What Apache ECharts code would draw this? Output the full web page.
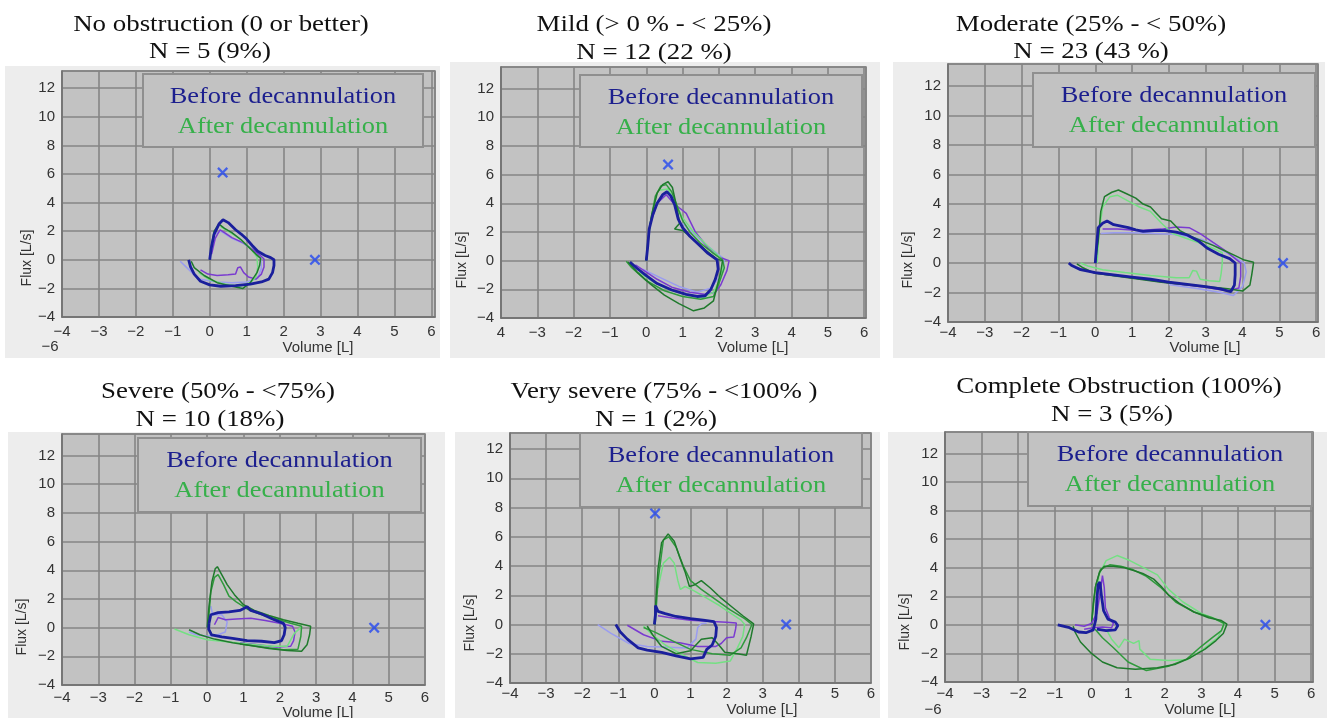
<!DOCTYPE html>
<html><head><meta charset="utf-8">
<script src="https://cdn.jsdelivr.net/npm/echarts@6/dist/echarts.min.js"></script>
<style>html,body{margin:0;padding:0;background:#fff}#c{width:1327px;height:718px}</style>
</head><body><div id="c"></div>
<script>
// ---------- DATA ----------
const titles = [
  ["No obstruction (0 or better)", "N = 5 (9%)"],
  ["Mild (> 0 % - < 25%)", "N = 12 (22 %)"],
  ["Moderate (25% - < 50%)", "N = 23 (43 %)"],
  ["Severe (50% - <75%)", "N = 10 (18%)"],
  ["Very severe (75% - <100% )", "N = 1 (2%)"],
  ["Complete Obstruction (100%)", "N = 3 (5%)"]
];
const legendBefore = "Before decannulation";
const legendAfter = "After decannulation";
const xAxisName = "Volume [L]";
const yAxisName = "Flux [L/s]";
const xTickValues = [-4,-3,-2,-1,0,1,2,3,4,5,6];
const yTickValues = [-4,-2,0,2,4,6,8,10,12];

// Panel 1
const p1BlueDark = [[0,0],[0.04,0.8],[0.12,1.8],[0.25,2.5],[0.36,2.8],[0.5,2.6],[0.7,2.1],[0.85,1.8],[1.0,1.45],[1.15,1.0],[1.3,0.6],[1.5,0.3],[1.65,0.15],[1.74,0.0],[1.74,-0.4],[1.7,-0.9],[1.6,-1.35],[1.4,-1.55],[1.1,-1.7],[0.7,-1.8],[0.3,-1.85],[0.0,-1.75],[-0.25,-1.5],[-0.42,-1.0],[-0.52,-0.5],[-0.57,0.0]];
const p1Purple = [[0.05,0.4],[0.15,1.5],[0.28,2.1],[0.4,1.9],[0.6,1.55],[0.9,1.2],[1.15,0.75],[1.35,0.35],[1.47,0.05],[1.47,-0.5],[1.4,-1.0],[1.25,-1.35],[1.05,-1.2],[0.92,-0.9],[0.83,-0.5],[0.76,-0.55],[0.7,-1.0],[0.5,-1.05],[0.2,-1.1],[-0.05,-1.0],[-0.25,-0.7]];
const p1Lavender = [[0.15,1.8],[0.3,2.0],[0.6,1.5],[0.95,1.1],[1.2,0.6],[1.38,0.1],[1.4,-0.6],[1.3,-1.3],[1.0,-1.55],[0.6,-1.6],[0.2,-1.55],[-0.3,-1.35],[-0.6,-0.6],[-0.8,-0.1]];
const p1GreenDark = [[0,0],[0.05,1.0],[0.12,2.0],[0.25,2.5],[0.4,2.2],[0.6,1.9],[0.85,1.4],[1.05,0.9],[1.25,0.4],[1.38,0.1],[1.35,-0.4],[1.28,-0.9],[1.1,-1.6],[0.9,-2.0],[0.6,-1.85],[0.2,-1.6],[-0.15,-1.1],[-0.42,-0.55],[-0.5,-0.1]];
const p1GreenLight = [[0.3,2.3],[0.5,2.0],[0.8,1.5],[1.1,0.8],[1.28,0.2],[1.3,-0.5],[1.25,-1.2],[1.1,-1.6],[0.8,-1.85],[0.4,-1.7],[0.0,-1.4],[-0.3,-0.9]];
const p1Marks = [[0.35,6.1],[2.85,0]];

// Panel 2
const p2BlueDark = [[0,0],[0.04,1.0],[0.08,2.2],[0.18,3.2],[0.3,4.0],[0.45,4.6],[0.57,4.8],[0.68,4.5],[0.78,3.9],[0.88,2.9],[1.0,2.3],[1.2,1.7],[1.45,1.1],[1.7,0.5],[1.95,0.05],[1.98,-0.6],[1.9,-1.3],[1.78,-2.0],[1.62,-2.45],[1.4,-2.5],[1.1,-2.35],[0.7,-2.05],[0.3,-1.6],[0.0,-1.05],[-0.25,-0.55],[-0.45,-0.1]];
const p2Purple = [[0.1,2.5],[0.3,4.0],[0.55,4.6],[0.75,4.0],[0.95,3.6],[1.1,3.3],[1.35,2.0],[1.7,0.9],[2.05,0.2],[2.28,0.0],[2.22,-0.7],[2.05,-1.7],[1.9,-2.2],[1.6,-2.35],[1.2,-2.2],[0.7,-1.85],[0.3,-1.3],[0.0,-0.8],[-0.3,-0.3]];
const p2Lavender = [[1.0,2.6],[1.3,1.9],[1.6,1.2],[1.9,0.6],[2.15,0.1],[2.1,-0.8],[1.8,-1.9],[1.4,-2.2],[0.9,-1.8],[0.4,-1.2],[-0.1,-0.6]];
const p2GreenDark = [[0,0],[0.05,1.5],[0.15,3.2],[0.3,4.7],[0.45,5.3],[0.6,5.5],[0.72,5.1],[0.85,3.6],[0.92,2.6],[0.78,2.2],[1.0,2.1],[1.3,1.5],[1.65,0.7],[1.95,0.1],[2.1,0.0],[2.05,-0.8],[1.95,-1.8],[1.85,-2.8],[1.6,-3.3],[1.3,-3.5],[0.9,-3.0],[0.5,-2.4],[0.1,-1.6],[-0.25,-0.8],[-0.5,-0.1]];
const p2GreenMid = [[0,0],[0.1,2.5],[0.25,4.5],[0.4,5.2],[0.55,5.3],[0.7,4.8],[0.85,3.8],[1.0,2.8],[1.2,2.0],[1.5,1.2],[1.8,0.6],[2.1,0.05],[2.15,-0.5],[2.0,-1.6],[1.85,-2.5],[1.5,-2.7],[1.0,-2.5],[0.5,-2.1],[0.0,-1.4],[-0.4,-0.5],[-0.55,-0.05]];
const p2GreenLight = [[0.35,4.9],[0.6,5.0],[0.8,4.0],[1.0,3.0],[1.3,2.0],[1.7,1.0],[2.05,0.2],[2.12,-0.3],[2.05,-1.2],[1.85,-2.2],[1.55,-2.6],[1.1,-2.4],[0.6,-2.0],[0.2,-1.5],[-0.2,-0.8]];
const p2Marks = [[0.6,6.7]];

// Panel 3
const p3BlueDark = [[0,0],[0.03,1.0],[0.08,2.4],[0.2,2.7],[0.32,2.85],[0.5,2.6],[0.7,2.5],[0.9,2.4],[1.1,2.25],[1.3,2.15],[1.6,2.2],[1.9,2.2],[2.2,2.1],[2.5,1.9],[2.8,1.5],[3.05,1.0],[3.35,0.6],[3.65,0.3],[3.8,0.0],[3.8,-0.8],[3.78,-1.5],[3.68,-1.95],[3.4,-1.75],[3.0,-1.6],[2.5,-1.45],[2.0,-1.3],[1.5,-1.1],[1.0,-0.95],[0.5,-0.8],[0.0,-0.65],[-0.4,-0.45],[-0.65,-0.15],[-0.72,0.0]];
const p3Purple = [[0.2,2.3],[0.6,2.3],[1.2,2.2],[1.8,2.3],[2.2,2.45],[2.55,2.4],[2.85,2.0],[3.2,1.4],[3.5,0.9],[3.8,0.3],[3.95,0.0],[3.95,-0.9],[3.9,-1.7],[3.6,-1.9],[3.0,-1.65],[2.0,-1.35],[1.0,-1.0],[0.0,-0.7],[-0.5,-0.3]];
const p3Lavender = [[0.15,2.0],[0.5,2.05],[1.0,2.05],[1.6,2.0],[2.1,1.95],[2.5,1.8],[2.9,1.6],[3.3,1.1],[3.7,0.5],[4.05,0.0],[4.1,-0.6],[4.0,-1.6],[3.75,-2.2],[3.4,-2.0],[2.8,-1.75],[2.0,-1.45]];
const p3GreenDark = [[0,0],[0.08,1.5],[0.15,3.5],[0.25,4.5],[0.45,4.8],[0.63,4.95],[0.85,4.7],[1.1,4.4],[1.3,4.0],[1.5,3.8],[1.65,3.4],[1.8,3.0],[2.05,2.85],[2.3,2.2],[2.6,1.8],[2.9,1.5],[3.2,1.2],[3.5,0.85],[3.8,0.5],[4.05,0.2],[4.3,0.05],[4.25,-0.8],[4.2,-1.5],[4.0,-1.9],[3.6,-1.75],[3.0,-1.6],[2.4,-1.45],[1.8,-1.3],[1.2,-1.1],[0.6,-0.9],[0.0,-0.7],[-0.35,-0.3],[-0.5,-0.05]];
const p3GreenLight = [[0.05,0],[0.1,2.0],[0.2,3.8],[0.4,4.5],[0.6,4.6],[0.9,4.2],[1.2,3.8],[1.5,3.5],[1.8,2.7],[2.1,2.0],[2.5,1.65],[2.9,1.3],[3.2,1.0],[3.45,0.7],[3.45,0.0],[3.42,-0.7],[3.38,-1.25],[3.1,-1.2],[2.85,-1.1],[2.75,-0.55],[2.65,-0.5],[2.55,-1.0],[2.2,-1.0],[1.5,-0.85],[0.8,-0.65],[0.2,-0.45],[-0.2,-0.2],[-0.4,0.0]];
const p3Marks = [[5.1,0]];

// Panel 4
const p4BlueDark = [[0.05,0.3],[0.1,0.9],[0.3,1.05],[0.6,1.1],[0.9,1.2],[1.1,1.45],[1.2,1.2],[1.5,0.95],[1.8,0.6],[2.1,0.3],[2.15,0.0],[2.12,-0.5],[2.05,-0.9],[1.85,-1.05],[1.5,-0.95],[1.1,-0.9],[0.7,-0.75],[0.4,-0.65],[0.12,-0.5],[0.04,-0.1],[0.05,0.3]];
const p4Purple = [[0.2,0.2],[0.3,0.7],[0.5,0.55],[0.8,0.6],[1.2,0.65],[1.6,0.5],[2.0,0.3],[2.35,0.1],[2.42,-0.3],[2.38,-0.9],[2.3,-1.3],[1.9,-1.35],[1.4,-1.2],[0.9,-1.05]];
const p4Lavender = [[0.1,1.5],[0.15,0.9],[0.4,0.9],[0.55,0.4],[0.5,-0.3],[0.3,-0.5],[0.0,-0.6],[-0.3,-0.5],[-0.5,-0.3]];
const p4GreenDark = [[0,0],[0.05,1.5],[0.13,3.2],[0.22,4.1],[0.28,4.25],[0.4,3.7],[0.55,3.0],[0.75,2.3],[1.0,1.6],[1.3,1.2],[1.7,0.85],[2.1,0.55],[2.5,0.3],[2.85,0.1],[2.82,-0.5],[2.75,-1.2],[2.6,-1.65],[2.2,-1.6],[1.7,-1.45],[1.2,-1.25],[0.7,-1.05],[0.2,-0.8],[-0.2,-0.5],[-0.5,-0.15]];
const p4GreenMid = [[0.02,0],[0.1,2.5],[0.2,3.5],[0.3,3.7],[0.45,3.0],[0.6,2.2],[0.8,1.8],[1.1,1.3],[1.5,0.9],[1.9,0.6],[2.3,0.3],[2.6,0.1],[2.58,-0.6],[2.5,-1.5],[2.1,-1.55],[1.5,-1.35],[0.9,-1.15]];
const p4GreenLight = [[2.6,0.05],[2.4,-0.4],[2.2,-1.3],[1.8,-1.3],[1.2,-1.15],[0.6,-1.0],[0.0,-0.85],[-0.5,-0.5],[-0.9,-0.1]];
const p4Marks = [[4.6,0]];

// Panel 5
const p5BlueDark = [[0,0],[0.03,0.7],[0.03,1.3],[0.1,0.9],[0.3,0.75],[0.6,0.55],[1.0,0.4],[1.35,0.3],[1.65,0.2],[1.72,-0.2],[1.7,-0.8],[1.6,-1.4],[1.45,-1.7],[1.35,-2.25],[1.0,-2.35],[0.6,-2.15],[0.2,-1.9],[-0.2,-1.75],[-0.45,-1.6],[-0.75,-1.0],[-0.95,-0.5],[-1.07,0.0]];
const p5Purple = [[0.1,0.6],[0.5,0.45],[1.0,0.3],[1.6,0.2],[2.0,0.15],[2.27,0.1],[2.25,-0.3],[2.2,-0.85],[2.0,-0.9],[1.85,-1.3],[1.7,-1.5],[1.2,-1.5],[0.7,-1.25],[0.2,-1.15],[-0.3,-0.7],[-0.75,-0.05]];
const p5Lavender = [[-1.57,0.0],[-1.2,-0.6],[-0.7,-1.3],[-0.2,-1.5],[0.4,-1.55],[0.9,-1.6],[1.15,-1.0],[1.2,-0.2],[1.3,0.05],[1.45,0.1]];
const p5GreenDark = [[0,0],[0.05,2.0],[0.1,3.8],[0.2,5.6],[0.38,6.2],[0.55,5.7],[0.7,4.6],[0.85,3.6],[0.97,2.6],[1.1,2.7],[1.3,3.0],[1.55,2.5],[1.85,1.8],[2.15,1.2],[2.45,0.6],[2.75,0.05],[2.68,-0.8],[2.6,-1.6],[2.55,-2.1],[2.3,-2.0],[1.95,-1.9],[1.75,-1.3],[1.6,-0.9],[1.3,-1.0],[1.0,-1.8],[0.6,-2.0],[0.2,-1.5],[-0.05,-0.7],[-0.2,-0.1]];
const p5GreenMid = [[0.02,0],[0.1,3.0],[0.25,5.8],[0.4,6.0],[0.6,5.3],[0.8,4.0],[1.0,3.0],[1.3,2.4],[1.7,1.7],[2.1,1.0],[2.5,0.4],[2.7,0.0],[2.55,-0.9],[2.4,-1.6],[2.1,-2.1],[1.6,-2.0],[1.0,-1.7],[0.4,-1.0],[0.0,-0.5],[-0.3,-0.2]];
const p5GreenLight = [[0.1,2.5],[0.25,4.2],[0.42,4.6],[0.55,4.2],[0.65,3.0],[0.72,2.4],[0.85,2.6],[1.1,2.3],[1.45,1.8],[1.8,1.3],[2.1,0.8],[2.4,0.3],[2.5,0.0],[2.45,-0.8],[2.3,-1.6],[2.1,-2.5],[1.7,-2.65],[1.2,-2.6],[0.8,-2.1],[0.3,-1.4],[-0.1,-0.6],[-0.3,-0.1]];
const p5Marks = [[0.02,7.6],[3.65,0]];

// Panel 6
const p6BlueDark = [[-0.92,0.0],[-0.6,-0.2],[-0.35,-0.5],[-0.15,-0.55],[0.05,-0.35],[0.12,0.4],[0.15,1.8],[0.18,2.8],[0.23,3.0],[0.27,2.1],[0.33,1.0],[0.45,0.4],[0.65,0.2],[0.72,-0.05],[0.65,-0.35],[0.4,-0.4],[0.15,-0.3]];
const p6Purple = [[-0.45,0.0],[-0.2,-0.1],[0.0,0.1],[0.15,0.8],[0.25,2.5],[0.3,3.45],[0.35,2.6],[0.38,1.2],[0.5,0.4],[0.6,0.1],[0.55,-0.2],[0.3,-0.15],[0.05,-0.2],[-0.2,-0.3]];
const p6GreenDark = [[0,0],[0.05,1.5],[0.12,2.8],[0.22,3.7],[0.35,4.1],[0.6,4.1],[0.9,4.0],[1.15,3.8],[1.4,3.6],[1.7,3.2],[1.9,2.7],[2.1,2.1],[2.4,1.5],[2.8,0.9],[3.2,0.5],[3.55,0.3],[3.7,0.05],[3.6,-0.6],[3.4,-1.1],[3.1,-1.7],[2.7,-2.3],[2.3,-2.75],[1.8,-3.0],[1.2,-3.1],[0.7,-3.0],[0.3,-2.6],[0.0,-2.0],[-0.3,-1.2],[-0.45,-0.5],[-0.5,-0.1]];
const p6GreenMid = [[0,0],[0.1,2.6],[0.25,3.9],[0.5,4.2],[0.8,4.1],[1.1,3.9],[1.5,3.4],[1.9,2.6],[2.3,1.6],[2.8,0.9],[3.3,0.5],[3.62,0.1],[3.55,-0.4],[3.3,-0.9],[3.0,-1.5],[2.6,-2.4],[2.1,-2.9],[1.5,-3.2],[1.0,-2.6],[0.6,-1.6],[0.3,-0.9],[0.1,-0.3]];
const p6GreenLight = [[0.1,0.5],[0.2,3.5],[0.4,4.5],[0.7,4.85],[1.05,4.5],[1.5,3.9],[1.8,3.5],[2.1,2.5],[2.5,1.6],[3.0,0.8],[3.5,0.3],[3.62,0.0],[3.45,-0.9],[3.0,-1.8],[2.6,-2.45],[2.1,-2.5],[1.6,-2.4],[1.32,-1.7],[1.3,-1.1],[1.15,-1.3],[0.9,-1.0],[0.75,-1.6],[0.55,-1.0],[0.4,-0.3]];
const p6Marks = [[4.75,0]];

// ---------- LAYOUT / STYLE ----------
const C = {blueDark:'#1a1f9c', purple:'#7a3bd0', lavender:'#9a9cf0', greenDark:'#1f7a2c', greenMid:'#2f9a3c', greenLight:'#74e083', mark:'#2448f0'};
const panels = [
  {grid:{left:62,top:71,width:373,height:246}, xMax:6.1, yMax:13.2, xm:7, bg:[5,66,435,292], box:[143,74,280,73], t1:[221,25], t2:[210,52], flux:[27,258], vol:[318,348], extra:[50,347],
   curves:[['lavender',p1Lavender],['purple',p1Purple],['greenLight',p1GreenLight],['greenDark',p1GreenDark],['blueDark',p1BlueDark]], marks:p1Marks},
  {grid:{left:501,top:67,width:365,height:251}, xMax:6.05, yMax:13.5, xm:7, bg:[450,62,430,296], box:[580,75,282,72], t1:[654,25], t2:[654,53], flux:[462,260], vol:[753,348], minus4:false,
   curves:[['lavender',p2Lavender],['purple',p2Purple],['greenLight',p2GreenLight],['greenMid',p2GreenMid],['greenDark',p2GreenDark],['blueDark',p2BlueDark]], marks:p2Marks},
  {grid:{left:948,top:64,width:370,height:258}, xMax:6.05, yMax:13.5, xm:3, bg:[893,62,432,296], box:[1033,73,282,74], t1:[1091,25], t2:[1091,52], flux:[908,260], vol:[1205,348],
   curves:[['lavender',p3Lavender],['purple',p3Purple],['greenLight',p3GreenLight],['greenDark',p3GreenDark],['blueDark',p3BlueDark]], marks:p3Marks},
  {grid:{left:62,top:434,width:363,height:251}, xMax:6.0, yMax:13.5, xm:5, bg:[8,432,437,286], box:[138,438,283,74], t1:[218,392], t2:[210,420], flux:[22,627], vol:[318,713],
   curves:[['lavender',p4Lavender],['purple',p4Purple],['greenLight',p4GreenLight],['greenMid',p4GreenMid],['greenDark',p4GreenDark],['blueDark',p4BlueDark]], marks:p4Marks},
  {grid:{left:510,top:433,width:361,height:250}, xMax:6.0, yMax:13.1, xm:3, bg:[455,432,425,286], box:[580,433,282,74], t1:[664,392], t2:[656,420], flux:[470,623], vol:[762,710],
   curves:[['lavender',p5Lavender],['purple',p5Purple],['greenLight',p5GreenLight],['greenMid',p5GreenMid],['greenDark',p5GreenDark],['blueDark',p5BlueDark]], marks:p5Marks},
  {grid:{left:945,top:432,width:368,height:250}, xMax:6.05, yMax:13.5, xm:4, bg:[888,432,439,286], box:[1028,432,284,74], t1:[1119,387], t2:[1112,415], flux:[905,622], vol:[1200,710], extra:[933,710],
   curves:[['greenLight',p6GreenLight],['greenMid',p6GreenMid],['greenDark',p6GreenDark],['purple',p6Purple],['blueDark',p6BlueDark]], marks:p6Marks}
];

const MINUS = '\u2212';
const fmt = v => (v < 0 ? MINUS + Math.abs(v) : String(v));
const xMark = 'path://M0,1.5 L1.5,0 L5,3.5 L8.5,0 L10,1.5 L6.5,5 L10,8.5 L8.5,10 L5,6.5 L1.5,10 L0,8.5 L3.5,5 Z';

const grids = [], xAxes = [], yAxes = [], series = [], graphics = [];
function txt(x, y, s, o) {
  return {type:'text', x:x, y:y, scaleX:o.scaleX||1, rotation:o.rotation||0, z:o.z||50,
    style:{text:s, x:0, y:0, align:'center', verticalAlign:'middle', fontFamily:o.font||'Liberation Serif', fontSize:o.size||24, fill:o.color||'#111'}};
}
panels.forEach((p, i) => {
  graphics.push({type:'rect', z:-10, shape:{x:p.bg[0], y:p.bg[1], width:p.bg[2], height:p.bg[3]}, style:{fill:'#ededed'}});
  grids.push(Object.assign({show:true, backgroundColor:'#c2c2c2', borderColor:'#7d7d7d', borderWidth:1.5, containLabel:false}, p.grid));
  xAxes.push({type:'value', gridIndex:i, min:-4, max:p.xMax, interval:1,
    axisLine:{show:true, onZero:false, lineStyle:{color:'#707070', width:1.5}}, axisTick:{show:false},
    splitLine:{show:true, lineStyle:{color:'#858585', width:1.6}},
    axisLabel:{showMaxLabel:true, showMinLabel:true, margin:p.xm, fontFamily:'Liberation Sans', fontSize:15, color:'#333',
      formatter: v => (xTickValues.indexOf(v) < 0 ? '' : (p.minus4 === false && v === -4 ? '4' : fmt(v)))}});
  yAxes.push({type:'value', gridIndex:i, min:-4, max:p.yMax, interval:2,
    axisLine:{show:true, onZero:false, lineStyle:{color:'#707070', width:1.5}}, axisTick:{show:false},
    splitLine:{show:true, lineStyle:{color:'#858585', width:1.6}},
    axisLabel:{showMaxLabel:true, showMinLabel:true, margin:7, fontFamily:'Liberation Sans', fontSize:15, color:'#333',
      formatter: v => (yTickValues.indexOf(v) < 0 ? '' : fmt(v))}});
  p.curves.forEach(([c, d]) => {
    series.push({type:'line', xAxisIndex:i, yAxisIndex:i, data:d, showSymbol:false, symbol:'none', silent:true, animation:false,
      lineStyle:{color:C[c], width: c === 'blueDark' ? 2.8 : 1.5}, z: c === 'blueDark' ? 4 : 3});
  });
  series.push({type:'scatter', xAxisIndex:i, yAxisIndex:i, data:p.marks, symbol:xMark, symbolSize:11, itemStyle:{color:C.mark}, animation:false, z:5});
  // legend box
  graphics.push({type:'rect', z:60, shape:{x:p.box[0], y:p.box[1], width:p.box[2], height:p.box[3]}, style:{fill:'#c2c2c2', stroke:'#8f8f8f', lineWidth:2}});
  const cx = p.box[0] + p.box[2]/2;
  graphics.push(txt(cx, p.box[1] + 23, legendBefore, {color:'#1c1f8e', size:24, scaleX:1.1, z:61}));
  graphics.push(txt(cx, p.box[1] + 53, legendAfter, {color:'#36b04a', size:24, scaleX:1.1, z:61}));
  // titles
  graphics.push(txt(p.t1[0], p.t1[1], titles[i][0], {size:24, scaleX:1.12}));
  graphics.push(txt(p.t2[0], p.t2[1], titles[i][1], {size:24, scaleX:1.12}));
  // axis names
  graphics.push(txt(p.flux[0], p.flux[1], yAxisName, {font:'Liberation Sans', size:14, color:'#333', rotation:Math.PI/2}));
  graphics.push(txt(p.vol[0], p.vol[1], xAxisName, {font:'Liberation Sans', size:15, color:'#333'}));
  if (p.extra) graphics.push(txt(p.extra[0], p.extra[1], fmt(-6), {font:'Liberation Sans', size:15, color:'#333'}));
});

const chart = echarts.init(document.getElementById('c'), null, {renderer:'canvas'});
chart.setOption({animation:false, backgroundColor:'#ffffff', grid:grids, xAxis:xAxes, yAxis:yAxes, series:series, graphic:{elements:graphics}});
</script></body></html>
